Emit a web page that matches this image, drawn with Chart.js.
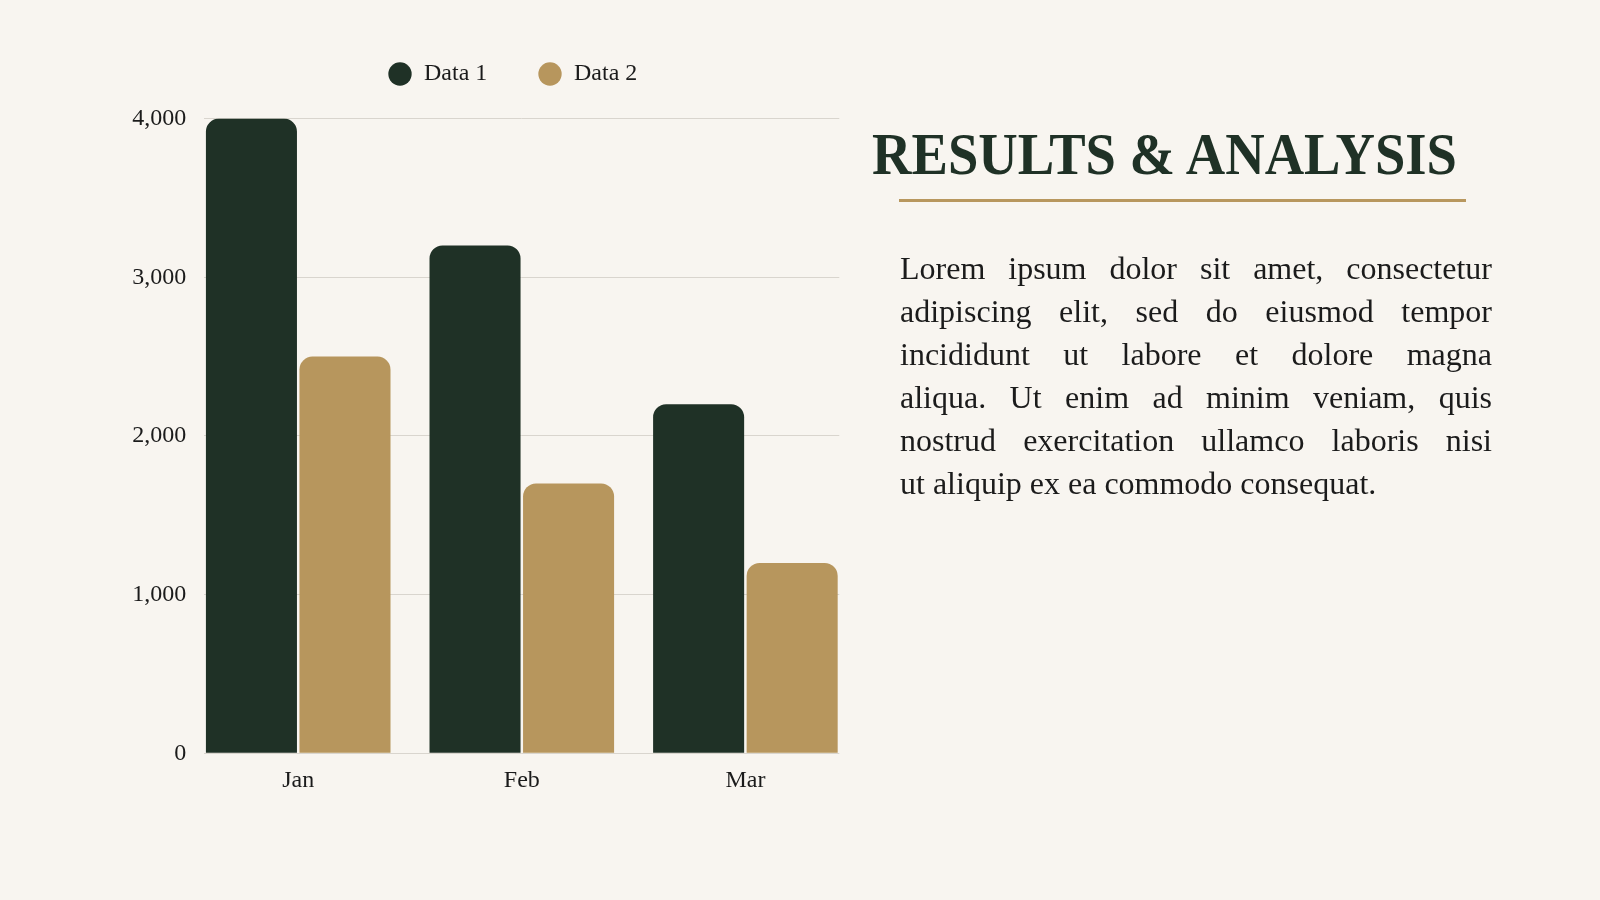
<!DOCTYPE html>
<html>
<head>
<meta charset="utf-8">
<script src="https://cdn.jsdelivr.net/npm/chart.js@4.4.1/dist/chart.umd.min.js"></script>
<style>
html,body{margin:0;padding:0;background:#f8f5f0;width:1600px;height:900px;overflow:hidden;}
#wrap{position:absolute;left:0;top:0;width:1040px;height:900px;}
#title{position:absolute;left:872px;top:124.6px;font-family:'Liberation Serif',serif;font-weight:700;font-size:59px;line-height:59px;color:#1f3126;white-space:nowrap;transform-origin:0 0;}
#rule{position:absolute;left:899px;top:199px;width:567px;height:3px;background:#b8975e;}
#body{position:absolute;left:900px;top:247px;width:592px;font-family:'Liberation Serif',serif;font-size:32px;line-height:43px;color:#1b1b1b;}
#body div{text-align:justify;text-align-last:justify;}
#body div.last{text-align:left;text-align-last:left;}
</style>
</head>
<body>
<div id="wrap"><canvas id="c"></canvas></div>
<div id="title">RESULTS &amp; ANALYSIS</div>
<div id="rule"></div>
<div id="body">
<div>Lorem ipsum dolor sit amet, consectetur</div>
<div>adipiscing elit, sed do eiusmod tempor</div>
<div>incididunt ut labore et dolore magna</div>
<div>aliqua. Ut enim ad minim veniam, quis</div>
<div>nostrud exercitation ullamco laboris nisi</div>
<div class="last">ut aliquip ex ea commodo consequat.</div>
</div>
<script>
const categories = ['Jan', 'Feb', 'Mar'];
const seriesNames = ['Data 1', 'Data 2'];
const data1 = [4000, 3200, 2200];
const data2 = [2500, 1700, 1200];
const yTicks = [0, 1000, 2000, 3000, 4000];

const DARK = '#1f3126';
const GOLD = '#b7965d';
const TEXT = '#1b1b1b';
const FONT = "'Liberation Serif', serif";

// fit title width
const t = document.getElementById('title');
const tw = t.getBoundingClientRect().width;
t.style.transform = 'scaleX(' + (585 / tw) + ')';

const toPoints = arr => arr.map((v, i) => ({x: i, y: v}));

const barCommon = {
  xAxisID: 'x',
  yAxisID: 'y',
  borderRadius: 13,
  borderSkipped: 'start',
  borderWidth: 0,
  categoryPercentage: 0.8367,
  barPercentage: 0.9733
};

new Chart(document.getElementById('c'), {
  type: 'bar',
  data: {
    datasets: [
      Object.assign({label: seriesNames[0], data: toPoints(data1), backgroundColor: DARK}, barCommon),
      Object.assign({label: seriesNames[1], data: toPoints(data2), backgroundColor: GOLD}, barCommon)
    ]
  },
  options: {
    responsive: true,
    maintainAspectRatio: false,
    animation: false,
    layout: {padding: {top: 11.3, left: 0, right: 14.7, bottom: 86.7}},
    plugins: {
      tooltip: {enabled: false},
      legend: {
        position: 'top',
        labels: {
          usePointStyle: true,
          pointStyle: 'circle',
          boxWidth: 24,
          boxHeight: 16.5,
          padding: 50.7,
          color: TEXT,
          font: {family: FONT, size: 24}
        }
      }
    },
    scales: {
      x: {
        type: 'linear',
        position: 'bottom',
        offset: false,
        min: -0.42,
        max: 2.42,
        afterBuildTicks: s => { s.ticks = categories.map((_, i) => ({value: i})); },
        afterFit: s => { s.height = 60; },
        grid: {display: false},
        border: {display: false},
        ticks: {
          padding: 5,
          color: TEXT,
          font: {family: FONT, size: 24},
          callback: v => categories[v]
        }
      },
      y: {
        type: 'linear',
        position: 'left',
        min: 0,
        max: 4000,
        afterBuildTicks: s => { s.ticks = yTicks.map(v => ({value: v})); },
        afterFit: s => { s.width = 204.3; },
        grid: {color: '#d9d5ce', lineWidth: 1, drawTicks: false},
        border: {display: false},
        ticks: {
          padding: 18,
          color: TEXT,
          font: {family: FONT, size: 24},
          callback: v => v.toLocaleString('en-US')
        }
      },
      xTop: {
        type: 'linear',
        position: 'top',
        min: 0,
        max: 1,
        afterFit: s => { s.height = 22.6; },
        grid: {display: false},
        border: {display: false},
        ticks: {display: false}
      },
      yRight: {
        type: 'linear',
        position: 'right',
        min: 0,
        max: 1,
        afterFit: s => { s.width = 186; },
        grid: {display: false},
        border: {display: false},
        ticks: {display: false}
      }
    }
  }
});
</script>
</body>
</html>
